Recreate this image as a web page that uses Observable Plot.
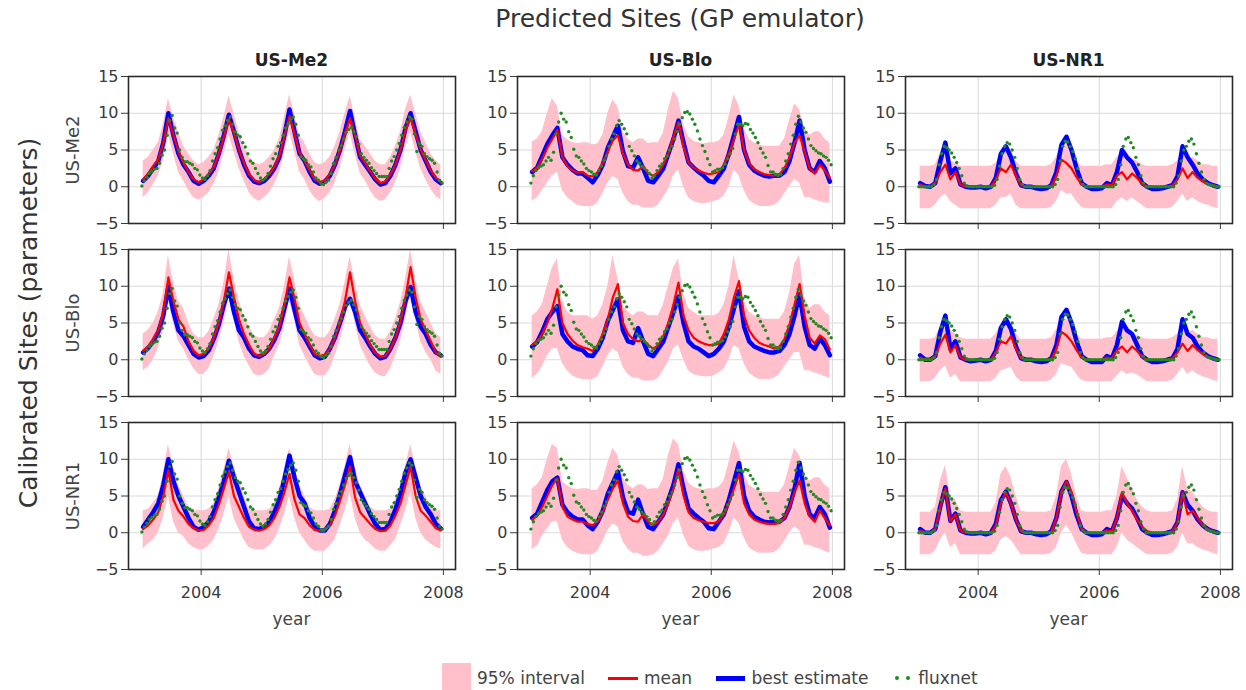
<!DOCTYPE html>
<html><head><meta charset="utf-8">
<script src="https://cdn.jsdelivr.net/npm/d3@7"></script>
<script src="https://cdn.jsdelivr.net/npm/@observablehq/plot@0.6"></script>
<style>
body{margin:0;background:#fff;}
#chart{position:relative;width:1246px;height:690px;overflow:hidden;font-family:"DejaVu Sans",sans-serif;color:#333;}
.abs{position:absolute;white-space:nowrap;line-height:1;}
.panel{position:absolute;}
.panel svg{display:block;overflow:visible;}
</style></head><body><div id="chart"></div>
<script>
// ---------------- data ----------------
const sites = ["US-Me2", "US-Blo", "US-NR1"];
const startYear = 2003, nYears = 5;
const xTicks = [2004, 2006, 2008];
const yTicks = [-5, 0, 5, 10, 15];
const yGrid = [0, 5, 10];

// monthly model output (calibrated site _ predicted site)
const mean_Me2_Me2 = [1,1.8,2.8,3.7,6,9.3,7,4.8,3.2,2,1,0.6, 1,1.7,2.7,4.5,6.8,9.2,7.3,5,3.2,1.7,0.9,0.6, 1,1.7,2.7,4.2,6.8,9.6,7.2,4.6,3.5,2.2,1,0.6, 0.9,1.7,3,5,7.3,9.3,7,4.2,3.2,2.1,1.1,0.5, 0.7,1.7,3,5,7.7,9.4,7.2,5,3.6,2.2,1.2,0.6];
const best_Me2_Me2 = [0.8,1.5,2.5,3.5,6,10,7,4.5,3,2,0.8,0.4, 0.8,1.5,2.5,4.5,7,9.8,7.5,5,3,1.5,0.7,0.5, 0.8,1.5,2.5,4,7,10.5,7.5,4.5,3.5,2,0.8,0.4, 0.7,1.5,3,5,7.5,10.3,7,4,3,2,1,0.3, 0.5,1.5,3,5,8,10,7.5,5,3.5,2,1,0.5];
const hi_Me2_Me2 = [3.5,4,5,6,8.5,12,9.5,7.5,5.5,4.5,3.5,3, 3.3,4,5,7,9.5,12.3,10,7.5,5.5,4,3.3,3, 3.3,4,5,6.5,9.5,12.5,10,7,6,4.5,3.3,3, 3.3,4,5.5,7.5,10,12.3,9.5,6.5,5.5,4.5,3.5,3, 3,4,5.5,7.5,10.5,12.5,10,7.5,6,4.5,3.5,3];
const lo_Me2_Me2 = [-1.5,-0.8,0.3,1.5,3.5,7,4.5,2,0.8,-0.5,-1.5,-1.8, -1.5,-0.8,0.3,2,4.5,7,4.8,2.5,0.8,-0.8,-1.6,-2, -1.5,-0.8,0.3,1.8,4.5,7.5,4.8,2,1,-0.5,-1.5,-2, -1.6,-0.8,0.5,2.5,5,7.3,4.5,1.8,0.8,-0.5,-1.5,-2, -1.8,-0.8,0.5,2.5,5.3,7.5,4.8,2.5,1,-0.3,-1.3,-1.8];

const mean_Me2_Blo = [2.1,2.6,3.8,5.3,6.5,7.7,4,2.8,2.2,1.9,2,1.5, 1.4,2,3.2,4.8,6.3,7,4.5,3,2.3,2.2,2.8,1.8, 1.5,2,3,4.5,6.8,8.8,5.5,3.3,2.6,2.2,1.9,1.7, 1.8,2,3,4.5,6.5,8.5,5,3.2,2.4,2,1.7,1.6, 1.5,1.7,2.5,4,6,7,4.8,2.5,1.8,3,2.2,1.2];
const best_Me2_Blo = [2,2.6,4.2,5.8,7,8,4,3,2.3,1.8,1.8,1.2, 0.6,1.6,3,5.3,6.8,8.3,4.8,2.8,2.6,4,2.5,0.8, 0.6,1.5,2.5,4.5,6.5,9,6,3.3,2.6,2,1.5,0.8, 0.6,1.5,2.5,4.5,7,9.5,5,3,2.2,1.8,1.5,1.4, 1.5,1.5,2,3.5,6,9,5,2.5,2,3.5,2.5,0.7];
const hi_Me2_Blo = [6.1,6.5,7.5,10,12,11,7,6.4,6,5.9,6,6, 5.7,5.8,7,10,11.8,10.9,7.5,6.5,6,6.5,6.5,5.9, 6,6,7.3,10.5,13,12,8.5,6.8,6.2,6,5.8,6, 6,6.2,7,9.5,12.5,11,8,6.5,6,5.7,5.5,5.5, 5.5,5.5,6.5,9,11.3,10.5,8,7,7.5,7.5,6.5,5.9];
const lo_Me2_Blo = [-2,-1.5,-0.5,0.5,1.5,2,-0.5,-1.5,-2,-2.5,-2.7,-2.7, -2.7,-2.2,-1,0.5,1.4,1,-0.9,-2,-2.5,-2.5,-2.9,-2.9, -2.9,-2.5,-1.5,-0.4,1.5,2.3,0,-1.5,-2,-2.2,-2.3,-2.2, -2,-1.8,-1.3,0,2.3,1.5,-0.5,-1.8,-2.3,-2.7,-2.7,-2.7, -2.5,-2,-1,0,1,0.5,-1.5,-1.5,-1.8,-2,-2.2,-2.2];

const mean_Me2_NR1 = [0.3,0,0,0.5,2,3,1,2,0.3,0,0,0, 0,0,0,1,2.5,2,3,1.5,0.2,0,0,0, 0,0,0.1,1.5,3.7,3.2,2.5,1.3,0.3,0,0,0, 0,0.3,0.2,1.5,2,1,1.8,1.2,0.4,0,0,0, 0,0,0.2,1,2.5,1.2,2,1.2,0.7,0.4,0.2,0];
const best_Me2_NR1 = [0.5,0.1,0,0.5,3.5,6,1.8,2.5,0.3,0,-0.1,-0.1, 0,-0.2,0,1.2,4.5,5.5,4,1.8,0.2,0,0,-0.2, -0.3,-0.2,0.2,2,5.7,6.8,5,2.5,0.5,0,-0.3,-0.3, -0.2,0.5,0.2,2,5,4,3.3,2,0.5,0,-0.3,-0.3, -0.2,0,0.2,1.4,5.5,4,3,1.8,1,0.5,0.2,0];
const hi_Me2_NR1 = [2.8,2.8,2.8,3,4.5,5,3.5,3.2,2.8,2.8,2.8,2.8, 2.8,2.8,2.8,3.2,4.5,5,5,3.5,2.8,2.8,2.8,2.8, 2.8,2.8,3,4,5.8,6,5,3.5,2.8,2.8,2.8,2.8, 2.8,3,3,4,4.5,4,3.8,3.5,3,2.8,2.8,2.8, 2.8,2.8,3,3.5,4.5,3.5,4,3.5,3,3,2.8,2.8];
const lo_Me2_NR1 = [-3,-3,-3,-2.5,-1.5,-1,-2,-2.5,-3,-3,-3,-3, -3,-3,-3,-2.5,-1.5,-1.5,-1,-2.5,-3,-3,-3,-3, -3,-3,-2.8,-2,-0.5,-1,-1,-2,-2.8,-3,-3,-3, -3,-3,-3,-2,-1.5,-2,-1.5,-2,-2.5,-3,-3,-3, -3,-3,-2.8,-2,-1,-2,-1.5,-2,-2.3,-2.5,-2.8,-3];

const mean_Blo_Me2 = [1.2,1.8,2.8,4,6.5,11.2,8,5.5,4.5,2.5,1.2,0.6, 0.8,1.5,3,5,8,11.9,8.5,5.5,3.5,2,0.8,0.5, 0.8,1.5,3,4.5,7.5,11.2,8.3,5,3.5,2,0.8,0.5, 0.7,1.5,3,5,8,11.9,8,5,3.5,2,0.9,0.4, 0.5,1.5,3,5.2,8.5,12.6,8.5,5.5,4,2.5,1,0.4];
const best_Blo_Me2 = [1,1.6,2.5,3.8,6,9.9,6.5,4,3.2,2,0.8,0.3, 0.5,1.3,2.8,4.8,7.5,9.7,6.5,4,3,1.5,0.6,0.4, 0.8,1.5,2.7,4.3,7,9.7,6.8,4,3,1.8,0.6,0.2, 0.4,1.5,3,5,7.2,8.3,6.5,4,3,1.8,0.8,0.2, 0.4,1.5,3,5,8,9.9,6.5,4.5,3.5,2,1,0.6];
const hi_Blo_Me2 = [3.5,4,5,6.5,9,14.2,10.5,8,7,5,3.5,3, 3,3.8,5.5,7.5,10.5,15,11,8,6,4.5,3.3,3, 3,3.8,5.5,7,10,14,11,7.5,6,4.5,3.3,3, 3,3.8,5.5,7.5,10.5,14,10.5,7.5,6,4.5,3.3,2.8, 2.8,3.8,5.5,7.8,11,15,11,8,6.5,5,3.5,3];
const lo_Blo_Me2 = [-1.5,-1,0,1.5,4,8,5,2.5,1.5,0,-1.2,-2, -2,-1.2,0.5,2.5,5,8.5,5.5,2.5,0.5,-0.8,-2,-2.2, -2,-1.3,0.5,2,4.5,8,5.5,2,0.5,-0.8,-2,-2.2, -2.2,-1.3,0.5,2.5,5,8.5,5,2,0.5,-0.8,-1.8,-2.2, -2.3,-1.3,0.5,2.5,5.5,9,5.5,2.5,1,0,-1.5,-2];

const mean_Blo_Blo = [2,2.5,3.5,5,7,9.6,5,3.5,2.6,2,1.7,1.5, 1.2,2,3.5,5.5,8.5,10.3,5,3.5,2.8,2.5,2.8,2, 1.5,2,3.2,5,7.5,10.5,6,4,3,2.5,2.2,2, 2,2.2,3.5,5.5,8.5,10.7,6,4,3,2.3,2,1.8, 1.5,1.8,2.8,4.8,7.5,10.3,6,3,2.2,3.3,2.8,1.4];
const best_Blo_Blo = [1.8,2.4,3.8,5.5,6.5,7.3,3.5,2.5,1.8,1.5,1.3,0.6, 0.5,1.5,3,5.3,6.8,8.2,4,2.5,2.3,4.3,2.5,0.8, 0.5,1.5,2.5,4.5,6.5,8.6,5,2.5,1.8,1.5,1,0.5, 0.8,1.5,2.5,4.5,7,9.3,4.5,2.5,1.8,1.5,1.2,1, 1,1.2,2,3.5,6,8.9,4.5,2,1.5,2.9,2,0.6];
const hi_Blo_Blo = [6,6.5,7.5,10,12.5,13.7,8,6.5,6,6,6,6, 5.5,6,7.5,10,14.2,11,7.5,6.5,6,6.5,6.5,6, 6,6,7.5,10,12.5,13.7,9,7,6.5,6,6,6, 6,6.3,7.5,10,14.2,11,8,6.5,6,5.8,5.5,5.5, 5.5,5.5,6.5,9,13,14.2,8.5,7,7.5,7.5,6.5,6];
const lo_Blo_Blo = [-2.5,-2,-1,0.5,1.5,1.5,-0.5,-1.5,-2.2,-2.5,-2.7,-2.7, -2.7,-2.3,-1,0.5,1.5,1,-1,-2,-2.5,-2.5,-2.9,-2.9, -2.9,-2.5,-1.5,-0.3,1.5,2,0,-1.5,-2,-2.2,-2.3,-2.3, -2.2,-1.8,-1.3,0,2,1.5,-0.5,-1.8,-2.3,-2.7,-2.7,-2.7, -2.5,-2,-1,0,1,1,-1.5,-1.5,-1.8,-2,-2.3,-2.5];

const mean_Blo_NR1 = [0.3,0,0,0.5,2.2,3.4,1,2,0.3,0,0,0, 0,0,0,1,2.5,2.2,3.2,1.5,0.2,0,0,0, 0,0,0.1,1.5,3.8,3.3,2.5,1.3,0.3,0,0,0, 0,0.3,0.2,1.3,1.8,1,1.8,1.2,0.4,0,0,0, 0,0,0.2,1,2.2,1.2,2,1.3,0.8,0.4,0.2,0];
const best_Blo_NR1 = [0.6,0,0,0.5,3.8,6,1.5,2.5,0.3,0,-0.2,-0.1, 0,-0.2,0,1.2,4.3,5.5,4.2,1.8,0.2,0,0,-0.2, -0.3,-0.2,0.2,2,5.8,6.8,5,2.5,0.5,0,-0.3,-0.3, -0.3,0.5,0.2,2,5.2,4,3.5,2,0.5,0,-0.3,-0.3, -0.2,0,0.2,1.5,5.5,3.5,3,1.8,1,0.5,0.2,0];
const hi_Blo_NR1 = [2.8,2.8,2.8,3,4.5,5,4,3.5,3,2.8,2.8,2.8, 2.8,2.8,2.8,3.5,4.8,5,5,3.5,2.8,2.8,2.8,2.8, 2.8,2.8,3,4,5.5,5.5,5,3.5,2.8,2.8,2.8,2.8, 2.8,3,3,3.8,4.5,3.8,3.5,3.3,3,2.8,2.8,2.8, 2.8,2.8,3,3.5,4.5,3.5,4,3.5,3,3,2.8,2.8];
const lo_Blo_NR1 = [-3,-3,-3,-2.5,-1.5,-0.8,-2.5,-2,-3,-3,-3,-3, -3,-3,-3,-2.5,-1.5,-1.3,-1,-2.3,-3,-3,-3,-3, -3,-3,-2.8,-2,-0.5,-0.8,-1,-2,-2.8,-3,-3,-3, -3,-3,-3,-2.2,-1.5,-2,-1.8,-2,-2.5,-3,-3,-3, -3,-3,-2.8,-2,-1,-2,-1.5,-2,-2.3,-2.5,-2.8,-3];

const mean_NR1_Me2 = [0.5,1,1.8,2.8,5,8.5,4.5,3,2.2,1.2,0.6,0.3, 0.4,1,2,3.8,6,8.3,5,3.5,2,0.8,0.4,0.3, 0.5,1,2,3.5,5.5,8,4.5,2.5,2,1,0.4,0.3, 0.4,1,2.3,4.3,6.5,9,4.8,2.8,2,1.2,0.5,0.2, 0.3,1,2.3,4,6.5,9,5,3,2.3,1.5,0.6,0.3];
const best_NR1_Me2 = [0.8,1.8,2.8,4,6.5,10,7,5,3.5,2,0.8,0.4, 0.8,1.5,2.8,4.8,7,9.8,7.5,5.5,3.5,1.5,0.6,0.5, 0.8,1.5,2.8,4.5,7.3,10.5,7.5,5,4,2,0.8,0.3, 0.3,1.2,3,5.2,7.8,10.3,7,5.5,4,2.5,1.2,0.4, 0.5,1.5,3.2,5.3,8.2,10,7.5,5,3.5,2.5,1.2,0.6];
const hi_NR1_Me2 = [3,3.2,4,5,8,12,9,6.5,5,3.5,3,3, 3,3.2,4,6,8.5,11.5,9,7,5,3.2,3,3, 3,3.2,4,6,8.5,11.5,9,6.5,5,3.5,3,3, 3,3.2,4.5,6.5,9,12,9,6.5,5,3.5,3,3, 3,3.2,4.5,6.5,9,12,9,6.5,5,3.5,3,3];
const lo_NR1_Me2 = [-2.2,-1.5,-1,0,2,5,1.5,0,-0.5,-1.5,-2,-2.3, -2.3,-1.8,-1,0.5,2.5,5,2,0.5,-1,-2,-2.3,-2.3, -2.3,-1.8,-1,0.5,2.5,5,2,0,-1,-2,-2.5,-2.5, -2.5,-1.8,-1,1,3,5.5,2,0,-1,-1.5,-2.2,-2.5, -2.5,-1.8,-1,1,3,5.5,2,0,-1,-1.5,-2,-2.2];

const mean_NR1_Blo = [1.8,2.3,3.5,5,6.5,7.4,3.5,2.2,1.8,1.5,1.5,1.2, 1,1.5,2.8,4.5,6,7.1,4,2.2,1.6,1.5,2.5,1.5, 1,1.5,2.5,4,6,8.7,5,2.8,2,1.7,1.5,1.3, 1.3,1.6,2.5,4,6,8,4,2.5,1.8,1.5,1.3,1.2, 1.2,1.3,2,3.5,5.5,7.1,4,2.2,1.5,3,2,1];
const best_NR1_Blo = [2,2.6,4.2,5.8,7,7.5,3.8,2.8,2.2,1.8,1.8,1, 0.5,1.5,3,5.3,6.8,8.3,4.8,2.8,2.6,4.5,2.5,0.8, 0.5,1.5,2.5,4.5,6.5,9.3,6,3.3,2.6,2,1.5,0.6, 0.5,1.5,2.5,4.5,7,9.5,5,3,2.2,1.8,1.5,1.4, 1.5,1.5,2,3.5,6,9.5,5,2.5,2,3.5,2.5,0.7];
const hi_NR1_Blo = [6,6.5,7.5,10,12,11.5,7,6.4,6,5.9,6,6, 5.7,5.8,7,9.5,11.5,10.5,7.5,6.5,6,6.5,6.5,5.9, 6,6,7.3,10.5,12.8,12,8.5,6.8,6.2,6,5.8,6, 6,6.2,7,9.5,12.5,11,8,6.5,6,5.7,5.5,5.5, 5.5,5.5,6.5,9,11.5,10.5,8,7,7.5,7.5,6.5,6];
const lo_NR1_Blo = [-2.3,-1.8,-0.5,0.5,1.5,1.5,-1,-2,-2.5,-2.8,-3,-3, -3,-2.5,-1.2,0.3,1.2,0.8,-1.2,-2.2,-2.8,-2.8,-3.2,-3.2, -3,-2.5,-1.5,-0.4,1.3,2,-0.3,-1.8,-2.3,-2.5,-2.5,-2.4, -2.2,-2,-1.5,0,2,1.3,-0.7,-2,-2.5,-2.8,-2.8,-2.8, -2.7,-2.2,-1.2,0,0.8,0.3,-1.7,-1.7,-2,-2.2,-2.5,-2.8];

const mean_NR1_NR1 = [0.3,0,0,0.5,3.5,6,1.5,2.5,0.3,0,0,0, 0,0,0,1,4,5.5,4,1.8,0.2,0,0,0, 0,0,0.1,2,5.5,7,5.5,2.8,0.5,0,0,0, 0,0.3,0.2,2,5.5,4,3,1.8,0.8,0.2,0,0, 0,0,0.2,1.4,5.5,2.5,3,2,1,0.5,0.2,0];
const best_NR1_NR1 = [0.5,0,0,0.5,3.6,6.2,1.6,2.6,0.3,0,-0.1,-0.1, 0,-0.2,0,1.2,4.4,5.6,4,1.8,0.2,0,0,-0.2, -0.3,-0.2,0.2,2,5.6,6.9,5,2.4,0.5,0,-0.3,-0.3, -0.2,0.5,0.2,2,5,4,3.3,2,0.5,0,-0.3,-0.3, -0.2,0,0.2,1.4,5.5,3.8,3,1.8,1,0.5,0.2,0];
const hi_NR1_NR1 = [2.8,2.8,2.8,3.5,7,9.2,5,4.5,3,2.8,2.8,2.8, 2.8,2.8,2.8,4,8,9,7.5,5,3,2.8,2.8,2.8, 2.8,2.8,3,5,9,10,8,5,3,2.8,2.8,2.8, 2.8,3,3,5,9,7.5,6,4.5,3.5,3,2.8,2.8, 2.8,2.8,3,4.5,9,6,5.5,4.5,3.5,3,2.8,2.8];
const lo_NR1_NR1 = [-3,-3,-3,-2.5,-1,0,-2,-1.5,-3,-3,-3,-3, -3,-3,-3,-2.5,-1,-0.5,-1,-2,-3,-3,-3,-3, -3,-3,-2.8,-2,0,1,0,-1.5,-2.8,-3,-3,-3, -3,-3,-3,-2,0,-1,-1.5,-2,-2.5,-3,-3,-3, -3,-3,-2.8,-2,0,-1.5,-1.5,-2,-2.3,-2.5,-2.8,-3];

// half-monthly fluxnet observations per predicted site
const flux_Me2 = [0.1,0.8,1.3,1.8,2.1,2.4,2.5,3.2,4.3,5,7,9,9.7,8,7.3,5,4,3.4,3.4,3.2,3,2.5,2.3,1.6,
 1.2,1,1.5,2.2,3.5,4.5,5.3,6.5,7.7,8.3,9,9.5,8.5,7.5,7,6.8,6,5.4,4.5,3.5,3.2,2.5,1.8,1.2,
 0.9,1.2,1.8,2.8,3.8,4.5,5.5,6,7,8,8.6,9.2,9.5,8.5,7,4.1,3.8,3.6,3,2.7,2,1.2,0.9,0.4,
 0.3,0.6,0.9,1.8,3.2,4,5,5.6,6.5,7.4,7.8,8.1,7.5,6.8,5.8,4.5,4,3.6,3.2,2.6,2.2,1.8,1.4,1.4,
 1.4,1.4,2.5,3.5,4.1,5,5.9,7,8.1,8.8,9.5,9.2,7.2,4.8,5.9,5.5,4.5,4.1,3.8,3.6,3.2,2,0.9,0.5];
const flux_Blo = [0.5,1.5,2.2,2.6,2.8,3,3.5,4,3.6,4.7,7.2,8.8,10,9.2,8.8,7.5,6.7,5.1,4.2,4,3.5,3.1,2.5,2.2,
 2,1.7,1.6,2.2,2.8,3.6,4.2,5.5,6.5,7.2,8.3,9,8.5,7.9,7.2,5.5,4.9,4.2,3.5,3.2,2.8,2.5,2.2,1.8,
 1.2,1.5,2.2,2.8,3.1,3.8,4.2,5,5.5,6.5,7.5,8.5,9.4,10.1,10.2,9.9,9.2,8.5,7.6,6.5,5.6,4.8,3.8,3,
 2,2.2,2.4,2.4,2.6,3.1,3.8,4.5,5.2,7.2,8.5,8.5,8.3,8.6,8.5,7.8,7.3,6.7,6,5.2,4.6,4,2.9,2,
 2,1.7,1.5,1.7,2.5,3.5,4.5,5.8,7,8.5,9.6,8.8,8,7.4,6.5,5.6,5.2,4.9,4.6,4.5,4.2,4,3.6,3];
const flux_NR1 = [0,0,0,0,0,0,0.3,1,3,4.5,5.5,5.3,5,4.6,4,3.3,2.5,1.5,0.5,0.1,0,0,0,0,
 0,0,0,0,0,0,0.2,1,2.8,4.5,5.5,6,5.8,5,4,2.5,1,0.3,0,0,0,0,0,0,
 0,0,0,0,0,0,0.3,1,3.5,5.5,6.2,6.1,5.5,4.8,3.8,2.5,1,0.3,0,0,0,0,0,0,
 0,0,0,0,0,0,0.3,1,3,5.5,6.5,6.7,6,5.3,4,3,1.5,0.5,0,0,0,0,0,0,
 0,0,0,0,0,0,0.5,1.5,3.5,5,5.5,6.2,6.5,5.8,4.5,3.2,2,1,0.5,0.3,0.2,0.1,0,0];

// ---------------- build tables ----------------
const monthT = d3.range(nYears * 12).map(i => startYear + (i + 0.5) / 12);
const halfT = d3.range(nYears * 24).map(k => startYear + (k + 0.5) / 24);
const model = {
  "US-Me2|US-Me2": [mean_Me2_Me2, best_Me2_Me2, lo_Me2_Me2, hi_Me2_Me2],
  "US-Me2|US-Blo": [mean_Me2_Blo, best_Me2_Blo, lo_Me2_Blo, hi_Me2_Blo],
  "US-Me2|US-NR1": [mean_Me2_NR1, best_Me2_NR1, lo_Me2_NR1, hi_Me2_NR1],
  "US-Blo|US-Me2": [mean_Blo_Me2, best_Blo_Me2, lo_Blo_Me2, hi_Blo_Me2],
  "US-Blo|US-Blo": [mean_Blo_Blo, best_Blo_Blo, lo_Blo_Blo, hi_Blo_Blo],
  "US-Blo|US-NR1": [mean_Blo_NR1, best_Blo_NR1, lo_Blo_NR1, hi_Blo_NR1],
  "US-NR1|US-Me2": [mean_NR1_Me2, best_NR1_Me2, lo_NR1_Me2, hi_NR1_Me2],
  "US-NR1|US-Blo": [mean_NR1_Blo, best_NR1_Blo, lo_NR1_Blo, hi_NR1_Blo],
  "US-NR1|US-NR1": [mean_NR1_NR1, best_NR1_NR1, lo_NR1_NR1, hi_NR1_NR1]
};
const fluxBySite = {"US-Me2": flux_Me2, "US-Blo": flux_Blo, "US-NR1": flux_NR1};

// ---------------- layout ----------------
const chart = document.getElementById("chart");
const colLeft = [128, 517, 905], rowTop = [76, 249, 422];
const PW = 327, PH = 147, ML = 50, MR = 6, MT = 4;

function text(str, x, y, css, rotate) {
  const d = document.createElement("div");
  d.className = "abs";
  d.textContent = str;
  d.style.left = x + "px";
  d.style.top = y + "px";
  d.style.transform = "translate(-50%,-50%)" + (rotate ? " rotate(-90deg)" : "");
  Object.assign(d.style, css || {});
  chart.appendChild(d);
  return d;
}

sites.forEach((calib, r) => {
  sites.forEach((pred, c) => {
    const [mean, best, lo, hi] = model[calib + "|" + pred];
    const rows = monthT.map((t, i) => ({t, mean: mean[i], best: best[i], lo: lo[i], hi: hi[i]}));
    const flux = halfT.map((t, k) => ({t, v: fluxBySite[pred][k]}));
    const bottom = r === 2;
    const MB = bottom ? 34 : 9;
    const svg = Plot.plot({
      width: ML + PW + MR,
      height: MT + PH + MB,
      marginLeft: ML, marginRight: MR, marginTop: MT, marginBottom: MB,
      style: {fontFamily: "DejaVu Sans, sans-serif", fontSize: "16px", color: "#3a3a3a", background: "transparent", overflow: "visible"},
      x: {domain: [2002.8, 2008.2], ticks: xTicks, tickSize: 6, tickPadding: 11,
          tickFormat: bottom ? (d => String(d)) : (() => ""), label: null},
      y: {domain: [-5, 15], ticks: yTicks, tickSize: 7, tickPadding: 3, label: null},
      marks: [
        Plot.ruleX(xTicks, {stroke: "#dadada", strokeWidth: 1}),
        Plot.ruleY(yGrid, {stroke: "#dadada", strokeWidth: 1}),
        Plot.areaY(rows, {x: "t", y1: "lo", y2: "hi", fill: "#ffc0cb", curve: "linear"}),
        Plot.line(rows, {x: "t", y: "best", stroke: "#0000ff", strokeWidth: 4.5, curve: "linear"}),
        Plot.line(rows, {x: "t", y: "mean", stroke: "#ff0000", strokeWidth: 2.2, curve: "linear"}),
        Plot.dot(flux, {x: "t", y: "v", r: 1.7, fill: "#1f8a1f", stroke: "none"}),
        Plot.frame({stroke: "#2a2a2a", strokeWidth: 1.6})
      ]
    });
    const holder = document.createElement("div");
    holder.className = "panel";
    holder.style.left = (colLeft[c] - ML) + "px";
    holder.style.top = (rowTop[r] - MT) + "px";
    holder.appendChild(svg);
    chart.appendChild(holder);
  });
});

// titles and labels
text("Predicted Sites (GP emulator)", 680, 18, {fontSize: "25px", color: "#333"});
sites.forEach((s, c) => {
  text(s, colLeft[c] + PW / 2, 60, {fontSize: "17px", fontWeight: "bold", color: "#222"});
  text("year", colLeft[c] + PW / 2, 619, {fontSize: "17px", color: "#444"});
});
sites.forEach((s, r) => {
  text(s, 73, rowTop[r] + PH / 2, {fontSize: "18px", color: "#444"}, true);
});
text("Calibrated Sites (parameters)", 28, 323, {fontSize: "25px", color: "#333"}, true);

// legend
function box(x, y, w, h, bg, radius) {
  const d = document.createElement("div");
  d.style.cssText = `position:absolute;left:${x}px;top:${y}px;width:${w}px;height:${h}px;background:${bg};border-radius:${radius || 0}px`;
  chart.appendChild(d);
}
const legendY = 678;
box(442, 663, 29, 30, "#ffc0cb");
text("95% interval", 477 + 54, legendY, {fontSize: "17px", color: "#444"});
box(608, legendY - 1.5, 30, 3, "#ff0000");
text("mean", 644 + 24, legendY, {fontSize: "17px", color: "#444"});
box(716, legendY - 2.5, 29, 5, "#0000ff");
text("best estimate", 752 + 58, legendY, {fontSize: "17px", color: "#444"});
box(895, legendY - 2, 4, 4, "#1f8a1f", 2);
box(906, legendY - 2, 4, 4, "#1f8a1f", 2);
text("fluxnet", 920 + 28, legendY, {fontSize: "17px", color: "#444"});
</script>
</body></html>
